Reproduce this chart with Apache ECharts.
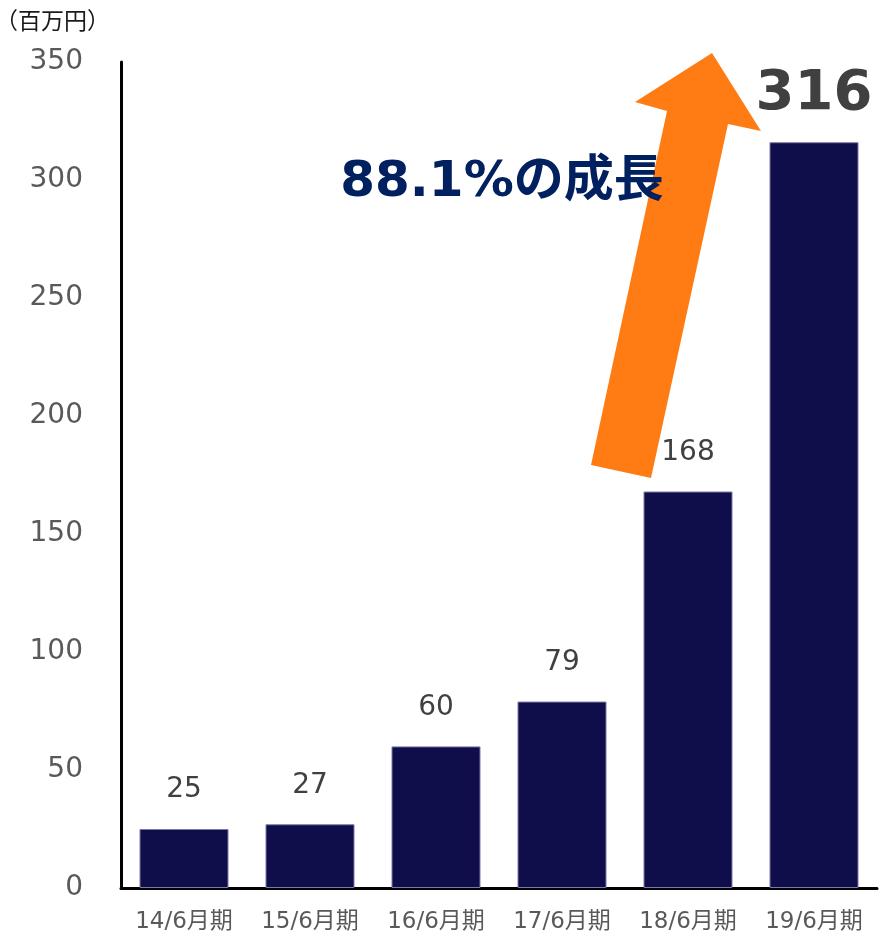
<!DOCTYPE html>
<html>
<head>
<meta charset="utf-8">
<script src="https://cdn.jsdelivr.net/npm/echarts@6/dist/echarts.min.js"></script>
<style>
  html, body { margin: 0; padding: 0; background: #fff; }
  #chart { width: 883px; height: 936px; }
</style>
</head>
<body>
<div id="chart"></div>
<script>
// Sales by fiscal period (millions of yen)
const periods = ['14/6月期', '15/6月期', '16/6月期', '17/6月期', '18/6月期', '19/6月期'];
const sales = [25, 27, 60, 79, 168, 316];
const yTicks = [0, 50, 100, 150, 200, 250, 300, 350];
const unitLabel = '（百万円）';
const growthLabel = '88.1%の成長';

const fontStack = "'DejaVu Sans', 'Noto Sans CJK JP', sans-serif";

const chart = echarts.init(document.getElementById('chart'), null, { renderer: 'canvas' });

const lastIdx = sales.length - 1;
const barData = sales.map((v, i) => {
  if (i !== lastIdx) return v;
  return {
    value: v,
    label: {
      fontSize: 56,
      fontWeight: 'bold',
      color: '#404040',
      distance: 20
    }
  };
});

chart.setOption({
  animation: false,
  backgroundColor: '#ffffff',
  grid: { left: 121, right: 6, top: 62, bottom: 48, containLabel: false },
  xAxis: {
    type: 'category',
    data: periods,
    axisLine: { show: true, lineStyle: { color: '#000', width: 3 } },
    axisTick: { show: false },
    axisLabel: {
      interval: 0,
      hideOverlap: false,
      color: '#595959',
      fontSize: 23,
      fontFamily: fontStack,
      margin: 23
    }
  },
  yAxis: {
    type: 'value',
    min: yTicks[0],
    max: yTicks[yTicks.length - 1],
    interval: yTicks[1] - yTicks[0],
    axisLine: { show: true, lineStyle: { color: '#000', width: 3 } },
    axisTick: { show: false },
    splitLine: { show: false },
    axisLabel: {
      color: '#595959',
      fontSize: 28,
      fontFamily: fontStack,
      margin: 38,
      padding: [6, 0, 0, 0]
    }
  },
  series: [{
    type: 'bar',
    data: barData,
    barWidth: 89,
    itemStyle: {
      color: '#100D4B',
      borderColor: '#7A78A8',
      borderWidth: 1
    },
    label: {
      show: true,
      position: 'top',
      distance: 25,
      color: '#404040',
      fontSize: 28,
      fontFamily: fontStack
    },
    z: 2
  }],
  graphic: [
    {
      type: 'text',
      left: -5,
      top: 9,
      style: {
        text: unitLabel,
        fill: '#1a1a1a',
        fontSize: 23,
        fontFamily: "'Noto Sans CJK JP', sans-serif"
      }
    },
    {
      // growth arrow
      type: 'polygon',
      z: 10,
      shape: {
        points: [
          [591, 465], [667, 111], [635, 102], [712, 53],
          [761, 131], [728, 124], [651, 478]
        ]
      },
      style: { fill: '#FF7C14' }
    },
    {
      type: 'text',
      z: 20,
      x: 502,
      y: 183,
      style: {
        text: growthLabel,
        fill: '#002060',
        fontSize: 50,
        fontWeight: 'bold',
        fontFamily: fontStack,
        align: 'center',
        verticalAlign: 'middle'
      }
    }
  ]
});
</script>
</body>
</html>
